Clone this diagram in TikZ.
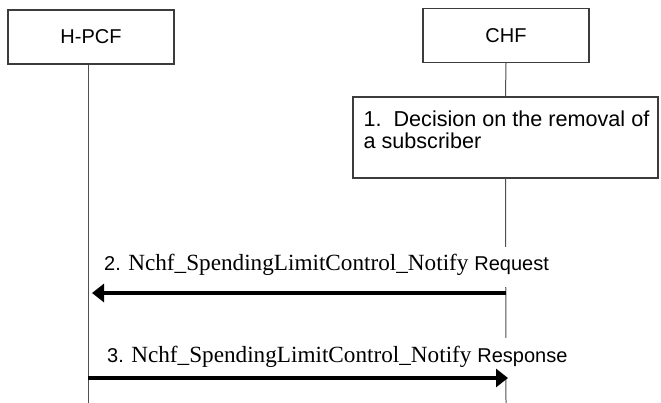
\documentclass[tikz,border=0pt]{standalone}
\usepackage{fontspec}
\setmainfont{Liberation Serif}
\setsansfont{Liberation Sans}
\usetikzlibrary{arrows.meta,positioning,calc}
\definecolor{boxgray}{RGB}{60,60,60}
\definecolor{linegray}{RGB}{80,80,80}
\newcommand{\msgsans}{\sffamily\fontsize{20}{23}\selectfont}
\newcommand{\msgserif}{\rmfamily\fontsize{23.2}{26}\selectfont}

\begin{document}
\begin{tikzpicture}[x=1pt, y=-1pt,
    entity/.style={draw=boxgray, line width=1.2pt, minimum width=166pt, minimum height=54pt,
                   font=\sffamily\fontsize{20}{23}\selectfont},
    lifeline/.style={draw=linegray, line width=1pt},
    msgarrow/.style={line width=4pt, -{Triangle[length=12pt,width=18pt]}},
    msglabel/.style={fill=white, anchor=base west, inner xsep=1pt, inner ysep=0pt,
                     text height=24pt, text depth=16pt}]
  \useasboundingbox (0,0) rectangle (661,403);

  % entities
  \node[entity] (hpcf) at (91,37) {H-PCF};
  \node[entity] (chf) at (506,35.5) {CHF};

  % step 1
  \node[draw=boxgray, line width=1.2pt, minimum width=305pt, minimum height=81pt] (decision) at (505.5,137.5) {};
  \node[anchor=north west, align=left, inner sep=0pt, font=\sffamily\fontsize{21.6}{22}\selectfont]
    (decisiontext) at ($(decision.north west)+(11,14)$) {1.~~Decision on the removal of\\a subscriber};

  % lifelines
  \coordinate (hpcfend) at (88,403);
  \coordinate (chfend) at (506,403);
  \draw[lifeline] (hpcfend |- hpcf.south) -- (hpcfend);
  \draw[lifeline] (chf.south) -- (decision.north);
  \draw[lifeline] (decision.south) -- (chfend);

  % messages
  \coordinate (chfreq) at (506,293);
  \coordinate (hpcfreq) at (92,293);
  \coordinate (hpcfresp) at (88,378);
  \coordinate (chfresp) at (508,378);

  \node[msglabel] (reqlabel) at (103,271) {\msgsans 2. \msgserif Nchf\_SpendingLimitControl\_Notify \msgsans Request};
  \draw[msgarrow] (chfreq) -- (hpcfreq);

  \node[msglabel] (resplabel) at (106,362) {\msgsans 3. \msgserif Nchf\_SpendingLimitControl\_Notify \msgsans Response};
  \draw[msgarrow] (hpcfresp) -- (chfresp);
\end{tikzpicture}
\end{document}
